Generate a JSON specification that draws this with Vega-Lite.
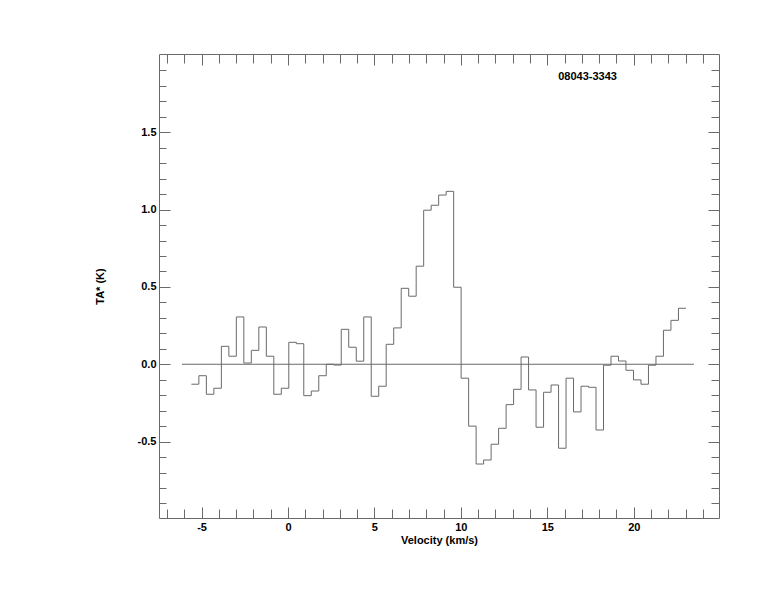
{
  "$schema": "https://vega.github.io/schema/vega-lite/v6.json",
  "width": 560,
  "height": 464,
  "autosize": "none",
  "padding": {"left": 159, "top": 54, "right": 55, "bottom": 94},
  "background": "white",
  "config": {
    "view": {"stroke": "#6a6a6a", "strokeWidth": 1},
    "axis": {
      "domain": false,
      "grid": false,
      "tickColor": "#6a6a6a",
      "tickWidth": 1,
      "labelFont": "Liberation Sans",
      "labelFontWeight": "bold",
      "labelFontSize": 11,
      "labelColor": "#000000",
      "titleFont": "Liberation Sans",
      "titleFontWeight": "bold",
      "titleFontSize": 11,
      "titleColor": "#000000",
      "labelFlush": false,
      "labelOverlap": false
    }
  },
  "datasets": {
    "spec": [
      {"v": -5.587, "t": -0.129}, {"v": -5.154, "t": -0.074}, {"v": -4.720, "t": -0.194}, {"v": -4.287, "t": -0.155},
      {"v": -3.853, "t": 0.116}, {"v": -3.420, "t": 0.052}, {"v": -2.987, "t": 0.306}, {"v": -2.553, "t": 0.008},
      {"v": -2.120, "t": 0.090}, {"v": -1.686, "t": 0.241}, {"v": -1.253, "t": 0.052}, {"v": -0.820, "t": -0.194},
      {"v": -0.386, "t": -0.155}, {"v": 0.047, "t": 0.142}, {"v": 0.481, "t": 0.133}, {"v": 0.914, "t": -0.203},
      {"v": 1.347, "t": -0.173}, {"v": 1.781, "t": -0.074}, {"v": 2.214, "t": 0.000}, {"v": 2.648, "t": -0.005},
      {"v": 3.081, "t": 0.226}, {"v": 3.514, "t": 0.110}, {"v": 3.948, "t": 0.020}, {"v": 4.381, "t": 0.306},
      {"v": 4.815, "t": -0.207}, {"v": 5.248, "t": -0.142}, {"v": 5.681, "t": 0.129}, {"v": 6.115, "t": 0.235},
      {"v": 6.548, "t": 0.491}, {"v": 6.982, "t": 0.440}, {"v": 7.415, "t": 0.634}, {"v": 7.848, "t": 0.996},
      {"v": 8.282, "t": 1.028}, {"v": 8.715, "t": 1.094}, {"v": 9.149, "t": 1.118}, {"v": 9.582, "t": 0.498},
      {"v": 10.015, "t": -0.090}, {"v": 10.449, "t": -0.400}, {"v": 10.882, "t": -0.645}, {"v": 11.316, "t": -0.619},
      {"v": 11.749, "t": -0.517}, {"v": 12.182, "t": -0.414}, {"v": 12.616, "t": -0.261}, {"v": 13.049, "t": -0.162},
      {"v": 13.483, "t": 0.047}, {"v": 13.916, "t": -0.166}, {"v": 14.349, "t": -0.407}, {"v": 14.783, "t": -0.181},
      {"v": 15.216, "t": -0.134}, {"v": 15.650, "t": -0.543}, {"v": 16.083, "t": -0.090}, {"v": 16.516, "t": -0.308},
      {"v": 16.950, "t": -0.142}, {"v": 17.383, "t": -0.149}, {"v": 17.817, "t": -0.425}, {"v": 18.250, "t": -0.006},
      {"v": 18.683, "t": 0.052}, {"v": 19.117, "t": 0.021}, {"v": 19.550, "t": -0.039}, {"v": 19.984, "t": -0.101},
      {"v": 20.417, "t": -0.129}, {"v": 20.850, "t": -0.006}, {"v": 21.284, "t": 0.052}, {"v": 21.717, "t": 0.220},
      {"v": 22.151, "t": 0.284}, {"v": 22.584, "t": 0.362}, {"v": 23.018, "t": 0.362}
    ],
    "zero": [{"x": -6.13, "x2": 23.48, "y": 0}],
    "label": [{"x": 17.33, "y": 1.855, "text": "08043-3343"}]
  },
  "layer": [
    {
      "data": {"name": "spec"},
      "mark": {"type": "line", "interpolate": "step-after", "color": "#6a6a6a", "strokeWidth": 1},
      "encoding": {
        "x": {
          "field": "v", "type": "quantitative",
          "scale": {"domain": [-7.46, 24.93], "nice": false, "zero": false},
          "axis": {
            "orient": "bottom", "values": [-5, 0, 5, 10, 15, 20], "tickSize": -11, "labelPadding": 14,
            "labelExpr": "datum.value < 0 ? '-' + format(-datum.value, 'd') : format(datum.value, 'd')",
            "title": "Velocity (km/s)", "titlePadding": 2
          }
        },
        "y": {
          "field": "t", "type": "quantitative",
          "scale": {"domain": [-0.994, 2.006], "nice": false, "zero": false},
          "axis": {
            "orient": "left", "values": [-0.5, 0, 0.5, 1, 1.5], "tickSize": -11, "labelPadding": 14,
            "labelExpr": "datum.value < 0 ? '-' + format(-datum.value, '.1f') : format(datum.value, '.1f')",
            "title": "TA* (K)", "titlePadding": 32
          }
        }
      }
    },
    {
      "data": {"name": "zero"},
      "mark": {"type": "rule", "color": "#6a6a6a", "strokeWidth": 1},
      "encoding": {
        "x": {
          "field": "x", "type": "quantitative",
          "scale": {"domain": [-7.46, 24.93], "nice": false, "zero": false},
          "axis": {
            "orient": "bottom", "values": [-7, -6, -5, -4, -3, -2, -1, 0, 1, 2, 3, 4, 5, 6, 7, 8, 9, 10, 11, 12, 13, 14, 15, 16, 17, 18, 19, 20, 21, 22, 23, 24],
            "tickSize": -9, "labels": false, "title": null
          }
        },
        "x2": {"field": "x2"},
        "y": {
          "field": "y", "type": "quantitative",
          "scale": {"domain": [-0.994, 2.006], "nice": false, "zero": false},
          "axis": {
            "orient": "left", "values": [-0.9, -0.8, -0.7, -0.6, -0.5, -0.4, -0.3, -0.2, -0.1, 0, 0.1, 0.2, 0.3, 0.4, 0.5, 0.6, 0.7, 0.8, 0.9, 1, 1.1, 1.2, 1.3, 1.4, 1.5, 1.6, 1.7, 1.8, 1.9],
            "tickSize": -7, "labels": false, "title": null
          }
        }
      }
    },
    {
      "data": {"name": "label"},
      "mark": {"type": "text", "font": "Liberation Sans", "fontWeight": "bold", "fontSize": 11, "color": "#000000", "align": "center", "baseline": "middle"},
      "encoding": {
        "x": {
          "field": "x", "type": "quantitative",
          "scale": {"domain": [-7.46, 24.93], "nice": false, "zero": false},
          "axis": {"orient": "top", "values": [-5, 0, 5, 10, 15, 20], "tickSize": -11, "labels": false, "title": null}
        },
        "y": {
          "field": "y", "type": "quantitative",
          "scale": {"domain": [-0.994, 2.006], "nice": false, "zero": false},
          "axis": {"orient": "right", "values": [-0.5, 0, 0.5, 1, 1.5], "tickSize": -11, "labels": false, "title": null}
        },
        "text": {"field": "text"}
      }
    },
    {
      "data": {"name": "label"},
      "mark": {"type": "text", "opacity": 0},
      "encoding": {
        "x": {
          "field": "x", "type": "quantitative",
          "scale": {"domain": [-7.46, 24.93], "nice": false, "zero": false},
          "axis": {
            "orient": "top", "values": [-7, -6, -5, -4, -3, -2, -1, 0, 1, 2, 3, 4, 5, 6, 7, 8, 9, 10, 11, 12, 13, 14, 15, 16, 17, 18, 19, 20, 21, 22, 23, 24],
            "tickSize": -9, "labels": false, "title": null
          }
        },
        "y": {
          "field": "y", "type": "quantitative",
          "scale": {"domain": [-0.994, 2.006], "nice": false, "zero": false},
          "axis": {
            "orient": "right", "values": [-0.9, -0.8, -0.7, -0.6, -0.5, -0.4, -0.3, -0.2, -0.1, 0, 0.1, 0.2, 0.3, 0.4, 0.5, 0.6, 0.7, 0.8, 0.9, 1, 1.1, 1.2, 1.3, 1.4, 1.5, 1.6, 1.7, 1.8, 1.9],
            "tickSize": -8, "labels": false, "title": null
          }
        },
        "text": {"field": "text"}
      }
    }
  ],
  "resolve": {"axis": {"x": "independent", "y": "independent"}}
}
